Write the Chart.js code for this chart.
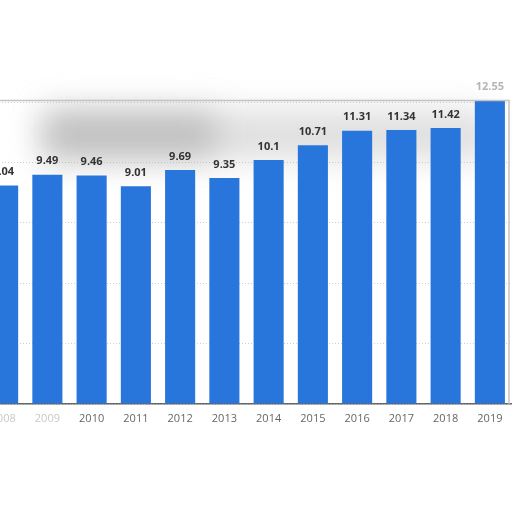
<!DOCTYPE html>
<html>
<head>
<meta charset="utf-8">
<script src="https://cdn.jsdelivr.net/npm/chart.js@4.4.0/dist/chart.umd.min.js"></script>
<style>
  html, body { margin: 0; padding: 0; background: #fff; overflow: hidden; }
  #wrap { position: absolute; left: -40px; top: 0; width: 560px; height: 512px; }
</style>
</head>
<body>
<div id="wrap"><canvas id="bar_chart"></canvas></div>
<script>
const years = ['2008', '2009', '2010', '2011', '2012', '2013', '2014', '2015', '2016', '2017', '2018', '2019'];
const values = [9.04, 9.49, 9.46, 9.01, 9.69, 9.35, 10.1, 10.71, 11.31, 11.34, 11.42, 12.55];
const yMax = 12.5;
const yStep = 2.5;

const ctx = document.querySelector('#bar_chart');

// blurred grey smear behind the top of the plot
const smudge = {
    id: 'smudge',
    beforeDatasetsDraw(chart) {
        const c = chart.ctx;
        const top = chart.scales.y.getPixelForValue(yMax);
        c.save();
        c.filter = 'blur(16px)';
        c.fillStyle = 'rgba(185,185,185,0.45)';
        c.fillRect(80, top + 8, 450, 50);
        c.fillStyle = 'rgba(150,150,150,0.45)';
        c.fillRect(85, top + 10, 170, 45);
        c.restore();
    }
};

// value labels above the bars + the box lines
const barLabels = {
    id: 'barLabels',
    afterDatasetsDraw(chart) {
        const c = chart.ctx;
        const y = chart.scales.y;
        const area = chart.chartArea;
        const topY = Math.round(y.getPixelForValue(yMax)) - 1.5;
        c.save();
        c.strokeStyle = '#c4c4c4';
        c.lineWidth = 1.5;
        c.beginPath();
        c.moveTo(0, topY);
        c.lineTo(area.right - 3, topY);
        c.lineTo(area.right - 3, area.bottom);
        c.stroke();

        c.font = 'bold 11px "Open Sans", sans-serif';
        c.textAlign = 'center';
        c.textBaseline = 'bottom';
        chart.getDatasetMeta(0).data.forEach((bar, i) => {
            c.fillStyle = i === values.length - 1 ? '#b5b5b5' : '#333';
            c.fillText(String(values[i]), bar.x, bar.y - 8);
        });
        c.restore();
    }
};

new Chart(ctx, {
    type: 'bar',
    data: {
        labels: years,
        datasets: [
            {
                data: values,
                backgroundColor: '#2876dc',
                barPercentage: 0.68,
                categoryPercentage: 1,
                clip: false
            }
        ]
    },
    options: {
        responsive: true,
        maintainAspectRatio: false,
        animation: false,
        layout: {
            padding: { left: 21, right: 8, top: 102, bottom: 0 }
        },
        plugins: {
            legend: false,
            tooltip: { enabled: false }
        },
        scales: {
            x: {
                grid: { display: false },
                border: { display: true, color: '#666', width: 1.5 },
                ticks: {
                    padding: 0,
                    color: (c) => c.index < 2 ? '#c8c8c8' : '#666',
                    font: { family: '"Open Sans", sans-serif', size: 11 },
                    maxRotation: 0
                },
                afterFit: (scale) => { scale.height = 108; }
            },
            y: {
                min: 0,
                max: yMax,
                grid: { color: '#cfcfcf', drawTicks: false },
                border: { display: false, dash: [1, 2] },
                ticks: { display: false, stepSize: yStep },
                afterFit: (scale) => { scale.width = 0; }
            }
        }
    },
    plugins: [smudge, barLabels]
});
</script>
</body>
</html>
